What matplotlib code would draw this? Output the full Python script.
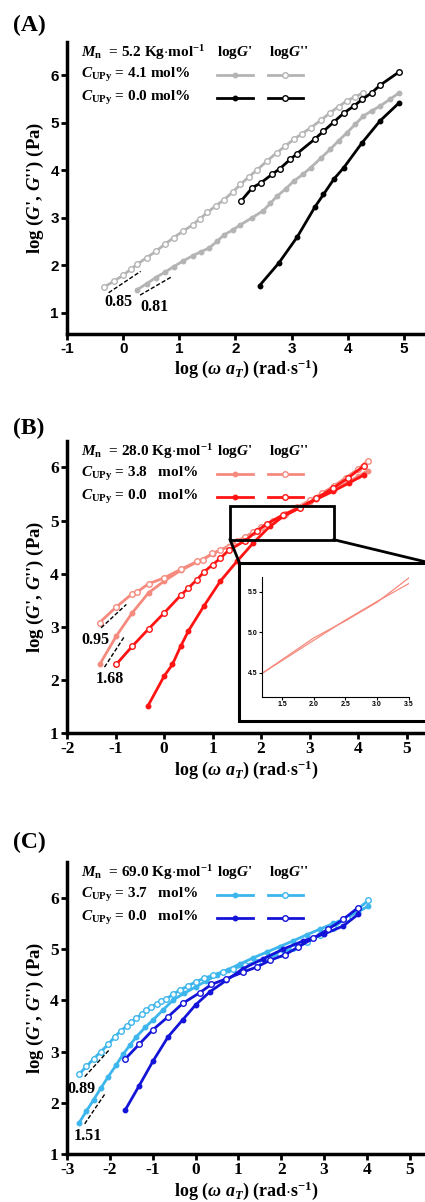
import numpy as np
import matplotlib
matplotlib.use("Agg")
import matplotlib.pyplot as plt
from matplotlib.patches import Rectangle

plt.rcParams['font.family'] = ['Liberation Serif', 'DejaVu Serif']
plt.rcParams['font.weight'] = 'bold'
plt.rcParams['mathtext.fontset'] = 'custom'
plt.rcParams['mathtext.rm'] = 'Liberation Serif:bold'
plt.rcParams['mathtext.it'] = 'Liberation Serif:italic:bold'
plt.rcParams['mathtext.bf'] = 'Liberation Serif:bold'

# ---------------- data ----------------
# panel A, Mn = 5.2
a_upy_gp_x = [0.24, 0.42, 0.58, 0.74, 0.90, 1.07, 1.24, 1.38, 1.53, 1.67, 1.80, 1.95, 2.09, 2.30, 2.50, 2.62, 2.74, 2.90,
              3.04, 3.20, 3.34, 3.52, 3.69, 3.84, 3.99, 4.14, 4.28, 4.43, 4.58, 4.75, 4.92]
a_upy_gp_y = [1.48, 1.61, 1.74, 1.85, 1.97, 2.09, 2.20, 2.28, 2.36, 2.50, 2.64, 2.74, 2.85, 3.00, 3.15, 3.30, 3.45, 3.61,
              3.77, 3.91, 4.05, 4.25, 4.44, 4.62, 4.79, 4.97, 5.14, 5.25, 5.35, 5.49, 5.63]
a_upy_gpp_x = [-0.34, -0.17, 0.00, 0.13, 0.25, 0.42, 0.58, 0.74, 0.90, 1.07, 1.24, 1.37, 1.50, 1.65, 1.80, 1.95, 2.09, 2.24,
               2.39, 2.56, 2.74, 2.89, 3.04, 3.19, 3.34, 3.52, 3.69, 3.84, 3.99, 4.14, 4.28]
a_upy_gpp_y = [1.54, 1.66, 1.79, 1.91, 2.02, 2.16, 2.29, 2.44, 2.58, 2.72, 2.85, 2.98, 3.11, 3.25, 3.38, 3.54, 3.70, 3.86,
               4.01, 4.19, 4.37, 4.51, 4.65, 4.77, 4.89, 5.05, 5.21, 5.34, 5.46, 5.55, 5.63]
a_ref_gp_x = [2.43, 2.77, 3.10, 3.42, 3.57, 3.76, 3.93, 4.26, 4.58, 4.92]
a_ref_gp_y = [1.57, 2.04, 2.59, 3.23, 3.49, 3.82, 4.05, 4.58, 5.04, 5.42]
a_ref_gpp_x = [2.10, 2.30, 2.45, 2.65, 2.79, 2.98, 3.10, 3.42, 3.57, 3.75, 3.93, 4.11, 4.26, 4.43, 4.58, 4.92]
a_ref_gpp_y = [3.35, 3.63, 3.73, 3.91, 4.03, 4.23, 4.35, 4.66, 4.82, 5.01, 5.20, 5.35, 5.49, 5.63, 5.79, 6.07]
a_slopes = [((-0.26, 0.31), (1.42, 1.87), '0.85', (-0.08, 1.22)),
            ((0.30, 0.87), (1.37, 1.76), '0.81', (0.55, 1.12))]

# panel B, Mn = 28.0
b_upy_gp_x = [-1.33, -0.99, -0.66, -0.32, 0.00, 0.34, 0.68, 1.00, 1.33, 1.67, 2.00, 2.50, 3.00, 3.50, 4.00, 4.20]
b_upy_gp_y = [2.29, 2.82, 3.26, 3.64, 3.86, 4.06, 4.22, 4.37, 4.52, 4.69, 4.86, 5.10, 5.35, 5.58, 5.83, 5.94]
b_upy_gpp_x = [-1.33, -0.99, -0.66, -0.55, -0.32, 0.00, 0.34, 0.68, 0.80, 0.99, 1.15, 1.33, 1.50, 1.67, 1.84, 2.00, 2.25,
               2.50, 2.75, 3.00, 3.25, 3.50, 3.75, 4.00, 4.20]
b_upy_gpp_y = [3.08, 3.37, 3.62, 3.66, 3.81, 3.92, 4.08, 4.23, 4.26, 4.38, 4.44, 4.51, 4.61, 4.69, 4.78, 4.88, 5.00,
               5.12, 5.25, 5.38, 5.51, 5.65, 5.81, 5.97, 6.13]
b_ref_gp_x = [-0.34, 0.00, 0.17, 0.34, 0.50, 0.82, 1.16, 1.50, 1.84, 2.18, 2.46, 2.80, 3.14, 3.48, 3.82, 4.12]
b_ref_gp_y = [1.50, 2.07, 2.29, 2.63, 2.92, 3.39, 3.86, 4.23, 4.58, 4.89, 5.08, 5.24, 5.40, 5.55, 5.71, 5.86]
b_ref_gpp_x = [-0.99, -0.66, -0.32, 0.00, 0.34, 0.50, 0.68, 0.82, 1.00, 1.16, 1.33, 1.67, 1.91, 2.12, 2.46, 2.80,
               3.14, 3.48, 3.79, 4.12]
b_ref_gpp_y = [2.29, 2.63, 2.96, 3.26, 3.59, 3.73, 3.89, 4.03, 4.17, 4.29, 4.44, 4.62, 4.80, 4.94, 5.11, 5.24,
               5.42, 5.61, 5.80, 6.03]
b_slopes = [((-1.30, -0.78), (2.98, 3.42), '0.95', (-1.42, 2.76)),
            ((-1.23, -0.81), (2.24, 2.83), '1.68', (-1.13, 2.02))]
# inset (zoom of the crossing)
inset_x = [1.20, 2.00, 2.50, 3.00, 3.50]
inset_y1 = [4.50, 4.93, 5.14, 5.37, 5.67]
inset_y2 = [4.50, 4.90, 5.15, 5.38, 5.60]

# panel C, Mn = 69.0
c_upy_gp_x = [-2.72, -2.55, -2.38, -2.21, -2.04, -1.86, -1.69, -1.53, -1.38, -1.18, -0.99, -0.75, -0.52, -0.26, 0.00,
              0.25, 0.49, 0.76, 1.04, 1.35, 1.66, 1.97, 2.28, 2.60, 2.91, 3.22, 3.53, 3.80, 4.04]
c_upy_gp_y = [1.61, 1.84, 2.06, 2.29, 2.51, 2.73, 2.95, 3.13, 3.29, 3.47, 3.62, 3.82, 4.01, 4.14, 4.26, 4.38, 4.49,
              4.60, 4.71, 4.83, 4.94, 5.05, 5.16, 5.28, 5.39, 5.50, 5.61, 5.73, 5.84]
c_upy_gpp_x = [-2.72, -2.55, -2.38, -2.21, -2.04, -1.89, -1.75, -1.61, -1.50, -1.38, -1.26, -1.15, -1.03, -0.91, -0.80,
               -0.68, -0.52, -0.37, -0.18, 0.00, 0.20, 0.41, 0.64, 0.88, 1.15, 1.43, 1.70, 1.97, 2.28, 2.60, 2.91,
               3.22, 3.53, 3.80, 4.04]
c_upy_gpp_y = [2.56, 2.71, 2.86, 3.00, 3.14, 3.29, 3.40, 3.50, 3.58, 3.65, 3.73, 3.81, 3.87, 3.93, 3.98, 4.03, 4.12,
               4.20, 4.28, 4.36, 4.43, 4.49, 4.56, 4.62, 4.68, 4.75, 4.83, 4.91, 5.02, 5.13, 5.27, 5.42, 5.61,
               5.79, 5.95]
c_ref_gp_x = [-1.65, -1.32, -0.99, -0.64, -0.30, 0.00, 0.34, 0.72, 1.11, 1.58, 2.05, 2.52, 2.99, 3.45, 3.80]
c_ref_gp_y = [1.85, 2.33, 2.82, 3.29, 3.62, 3.91, 4.17, 4.39, 4.62, 4.81, 5.00, 5.16, 5.29, 5.45, 5.68]
c_ref_gpp_x = [-1.65, -1.32, -0.99, -0.64, -0.30, 0.10, 0.37, 0.72, 1.11, 1.43, 1.74, 2.09, 2.40, 2.75, 3.10, 3.45, 3.80]
c_ref_gpp_y = [2.85, 3.14, 3.43, 3.68, 3.94, 4.15, 4.31, 4.42, 4.55, 4.65, 4.78, 4.89, 5.04, 5.21, 5.39, 5.58, 5.81]
c_slopes = [((-2.59, -2.02), (2.51, 3.03), '0.89', (-2.67, 2.27)),
            ((-2.59, -2.12), (1.59, 2.17), '1.51', (-2.51, 1.36))]

panels = [
    dict(tag='(A)', tag_y=25, mn='5.2', c1='4.1 mol%', c0='0.0 mol%', col1='#b4b4b4', col0='black',
         upy=(a_upy_gp_x, a_upy_gp_y, a_upy_gpp_x, a_upy_gpp_y),
         ref=(a_ref_gp_x, a_ref_gp_y, a_ref_gpp_x, a_ref_gpp_y), slopes=a_slopes,
         xlim=(-1, 5.38), ylim=(0.55, 6.7), xt=range(-1, 6), bottom=0.7221,
         tickfont='Liberation Sans', ticksize=11),
    dict(tag='(B)', tag_y=428, mn='28.0', c1='3.8   mol%', c0='0.0   mol%', col1='#f58a7e', col0='#ff1414',
         upy=(b_upy_gp_x, b_upy_gp_y, b_upy_gpp_x, b_upy_gpp_y),
         ref=(b_ref_gp_x, b_ref_gp_y, b_ref_gpp_x, b_ref_gpp_y), slopes=b_slopes,
         xlim=(-2, 5.38), ylim=(1, 6.5), xt=range(-2, 6), bottom=0.3902,
         tickfont='Liberation Serif', ticksize=12.5),
    dict(tag='(C)', tag_y=842, mn='69.0', c1='3.7   mol%', c0='0.0   mol%', col1='#3cb6ec', col0='#1414d8',
         upy=(c_upy_gp_x, c_upy_gp_y, c_upy_gpp_x, c_upy_gpp_y),
         ref=(c_ref_gp_x, c_ref_gp_y, c_ref_gpp_x, c_ref_gpp_y), slopes=c_slopes,
         xlim=(-3, 5.36), ylim=(1, 6.7), xt=range(-3, 6), bottom=0.0399,
         tickfont='Liberation Serif', ticksize=12.5),
]

fig = plt.figure(figsize=(4.25, 12.02), dpi=100)

axes = []
for p in panels:
    ax = fig.add_axes([0.158, p['bottom'], 0.842, 0.243])
    axes.append(ax)
    for k in ('upy', 'ref'):
        col = p['col1'] if k == 'upy' else p['col0']
        gx, gy, gxx, gyy = p[k]
        ax.plot(gx, gy, '-o', color=col, lw=2, ms=3.2, mfc=col, mec=col, zorder=3)
        ax.plot(gxx, gyy, '-o', color=col, lw=2, ms=4, mfc='white', mec=col, mew=1, zorder=3)
    for sx, sy, lab, (tx, ty) in p['slopes']:
        ax.plot(sx, sy, '--', color='black', lw=1, dashes=(3, 1.5), zorder=4)
        ax.text(tx, ty, lab, fontsize=11.5, ha='center', va='center', fontweight='bold')

    ax.set_xlim(*p['xlim'])
    ax.set_ylim(*p['ylim'])
    tf = dict(fontfamily=p['tickfont'], fontweight='bold', fontsize=p['ticksize'])
    ax.set_xticks(list(p['xt']))
    ax.set_xticklabels([str(v) for v in p['xt']], **tf)
    ax.set_yticks([1, 2, 3, 4, 5, 6])
    ax.set_yticklabels(['1', '2', '3', '4', '5', '6'], **tf)
    for s in ('top', 'right'):
        ax.spines[s].set_visible(False)
    for s in ('left', 'bottom'):
        ax.spines[s].set_linewidth(2.5)
    ax.tick_params(width=2, length=4, direction='out', pad=2)
    ax.set_xlabel(r"log ($\omega$ $a_T$) (rad$\cdot$s$^{-1}$)", fontsize=13, fontweight='bold', labelpad=1)
    ax.set_ylabel(r"log ($G$', $G$'') (Pa)", fontsize=13.5, fontweight='bold', labelpad=3)

    # legend table
    tr = ax.transAxes
    fs = 11
    ax.text(0.04, 0.965, r"$M_{\mathrm{n}}$  = " + p['mn'] + r" Kg$\cdot$mol$^{-1}$", transform=tr,
            fontsize=fs, va='center', ha='left')
    ax.text(0.42, 0.965, r"log$G$'", transform=tr, fontsize=fs, va='center', ha='left')
    ax.text(0.565, 0.965, r"log$G$''", transform=tr, fontsize=fs, va='center', ha='left')
    for yy, txt, col in ((0.887, p['c1'], p['col1']), (0.807, p['c0'], p['col0'])):
        ax.text(0.04, yy, r"$C_{\mathrm{UPy}}$ = " + txt, transform=tr, fontsize=fs, va='center', ha='left')
        ax.plot([0.42, 0.52], [yy, yy], '-', color=col, lw=2, transform=tr)
        ax.plot([0.47], [yy], 'o', color=col, ms=3.2, transform=tr)
        ax.plot([0.56, 0.66], [yy, yy], '-', color=col, lw=2, transform=tr)
        ax.plot([0.61], [yy], 'o', color=col, ms=4, mfc='white', mec=col, mew=1, transform=tr)

    fig.text(0.03, 1 - p['tag_y'] / 1202, p['tag'], fontsize=17, fontweight='bold',
             ha='left', va='center', family='Liberation Serif')

# zoom boxes in panel B
axb = axes[1]
axb.add_patch(Rectangle((1.36, 4.64), 3.50 - 1.36, 5.28 - 4.64, fill=False, ec='black', lw=2, zorder=6,
                        clip_on=False))
axb.add_patch(Rectangle((1.55, 1.23), 4.2, 4.21 - 1.23, fc='white', ec='black', lw=2.2, zorder=6,
                        clip_on=False))
axb.plot([1.36, 1.55], [4.64, 4.21], color='black', lw=2, zorder=6, clip_on=False)
axb.plot([3.50, 5.45], [4.64, 4.21], color='black', lw=2, zorder=6, clip_on=False)

axi = fig.add_axes([0.616, 0.4201, 0.346, 0.0998])
axi.set_zorder(10)
axi.plot(inset_x, inset_y1, color='#f58a7e', lw=0.9)
axi.plot(inset_x, inset_y2, color='#f58a7e', lw=0.9)
axi.set_xlim(1.18, 3.5)
axi.set_ylim(4.2, 5.68)
axi.set_xticks([1.5, 2.0, 2.5, 3.0, 3.5])
axi.set_yticks([4.5, 5.0, 5.5])
axi.spines['top'].set_visible(False)
axi.spines['right'].set_visible(False)
axi.tick_params(labelsize=5, length=2, width=0.8, pad=1)
for t in axi.get_xticklabels() + axi.get_yticklabels():
    t.set_fontfamily('Liberation Sans')
axi.patch.set_alpha(0)

fig.savefig('out.png', dpi=100)
